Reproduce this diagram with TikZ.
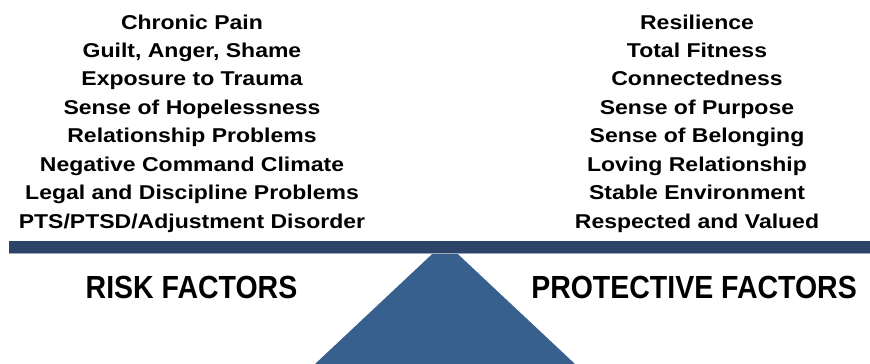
\documentclass[tikz,border=0pt]{standalone}
\usepackage{fontspec}
\newfontfamily\topfont[FakeStretch=1.15]{Liberation Sans}
\newfontfamily\headfont[FakeStretch=0.89]{Liberation Sans}
\definecolor{beamblue}{HTML}{2B4468}
\definecolor{fulcrumblue}{HTML}{37608F}
\definecolor{edgegrey}{HTML}{9AA8B8}
\tikzset{
  itemtext/.style={inner sep=0pt, anchor=base, font=\topfont\bfseries\fontsize{20}{24}\selectfont},
  headtext/.style={inner sep=0pt, anchor=base, font=\headfont\bfseries\fontsize{32}{38}\selectfont},
}
\begin{document}
\begin{tikzpicture}[x=1pt,y=-1pt]
\useasboundingbox (0,0) rectangle (870,364);
% fulcrum
\fill[fulcrumblue] (445,242) -- (575,364) -- (315,364) -- cycle;
% beam
\fill[beamblue] (9,241) rectangle (870,253);
\draw[edgegrey, line width=0.8pt] (9,253.4) -- (870,253.4);
% risk factors
\foreach \t [count=\i from 0] in {Chronic Pain,{Guilt, Anger, Shame},Exposure to Trauma,Sense of Hopelessness,Relationship Problems,Negative Command Climate,Legal and Discipline Problems,PTS/PTSD/Adjustment Disorder}{
  \node[itemtext] (l\i) at (192,29+28.43*\i) {\t};
}
% protective factors
\foreach \t [count=\i from 0] in {Resilience,Total Fitness,Connectedness,Sense of Purpose,Sense of Belonging,Loving Relationship,Stable Environment,Respected and Valued}{
  \node[itemtext] (r\i) at (697,29+28.43*\i) {\t};
}
\node[headtext] (risk) at (191.5,298) {RISK FACTORS};
\node[headtext] (prot) at (694,298) {PROTECTIVE FACTORS};
\end{tikzpicture}
\end{document}
